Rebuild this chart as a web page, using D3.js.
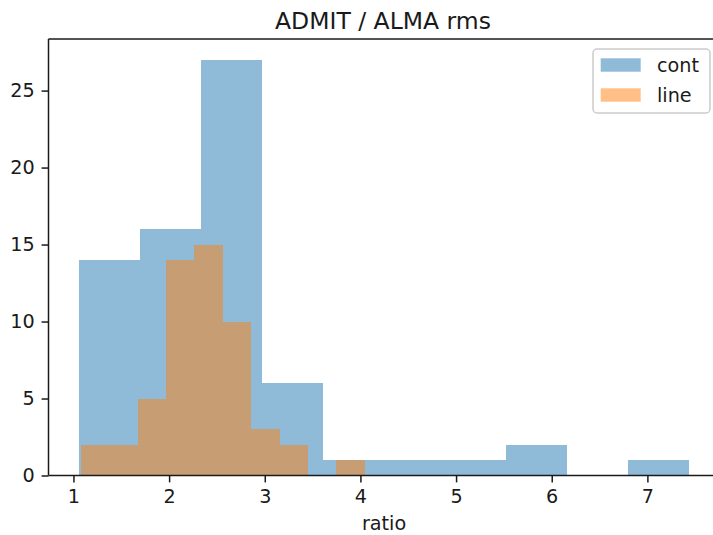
<!DOCTYPE html>
<html><head><meta charset="utf-8">
<script src="https://cdn.jsdelivr.net/npm/d3@7"></script>
<style>body{margin:0;background:#fff;} svg{display:block;} text{font-family:"DejaVu Sans",sans-serif;fill:#1a1a1a;}</style>
</head><body><svg id="c" width="713" height="535"></svg>
<script>
// Data
const contEdges = [1.058, 1.696, 2.333, 2.971, 3.609, 4.247, 4.884, 5.522, 6.160, 6.797, 7.435];
const contCounts = [14, 16, 27, 6, 1, 1, 1, 2, 0, 1];
const lineEdges = [1.077, 1.374, 1.671, 1.968, 2.264, 2.561, 2.858, 3.155, 3.452, 3.748, 4.045];
const lineCounts = [2, 2, 5, 14, 15, 10, 3, 2, 0, 1];
const seriesNames = ["cont", "line"];
const seriesColors = ["#1f77b4", "#ff7f0e"];
const xTicks = [1, 2, 3, 4, 5, 6, 7];
const yTicks = [0, 5, 10, 15, 20, 25];
const titleText = "ADMIT / ALMA rms";
const xLabel = "ratio";

const svg = d3.select("#c");
const L = 48.5, R = 719.5, T = 39, B = 475.5;
const fs = 19.2;

const allEdges = contEdges.concat(lineEdges);
const xmin = d3.min(allEdges), xmax = d3.max(allEdges);
const xm = (xmax - xmin) * 0.05;
const x = d3.scaleLinear().domain([xmin - xm, xmax + xm]).range([L, R]);
const ymax = d3.max(contCounts.concat(lineCounts)) * 1.05;
const y = d3.scaleLinear().domain([0, ymax]).range([B, T]);

const series = [
  {edges: contEdges, counts: contCounts},
  {edges: lineEdges, counts: lineCounts}
];
series.forEach((s, si) => {
  const bins = s.counts.map((c, i) => ({x0: s.edges[i], x1: s.edges[i + 1], c}));
  svg.append("g").selectAll("rect").data(bins.filter(b => b.c > 0)).join("rect")
    .attr("x", d => x(d.x0)).attr("width", d => x(d.x1) - x(d.x0))
    .attr("y", d => y(d.c)).attr("height", d => y(0) - y(d.c))
    .attr("fill", seriesColors[si]).attr("fill-opacity", 0.5)
    .attr("shape-rendering", "crispEdges");
});

// Axes
const xAxis = d3.axisBottom(x).tickValues(xTicks).tickFormat(d3.format("d")).tickSize(6.9).tickPadding(6.9);
const gx = svg.append("g").attr("transform", `translate(0,${B})`).call(xAxis);
gx.select(".domain").remove();
gx.selectAll("line").attr("stroke", "#1a1a1a").attr("stroke-width", 1.5);
gx.selectAll("text").attr("font-size", fs).attr("dy", "0.71em").attr("y", 13.8).style("font-family", "DejaVu Sans");

const yAxis = d3.axisLeft(y).tickValues(yTicks).tickFormat(d3.format("d")).tickSize(6.9).tickPadding(6.9);
const gy = svg.append("g").attr("transform", `translate(${L},0)`).call(yAxis);
gy.select(".domain").remove();
gy.selectAll("line").attr("stroke", "#1a1a1a").attr("stroke-width", 1.5);
gy.selectAll("text").attr("font-size", fs).style("font-family", "DejaVu Sans");

// Spines
const sp = svg.append("g").attr("stroke", "#1a1a1a").attr("stroke-width", 1.5).attr("fill", "none");
sp.append("line").attr("x1", L).attr("x2", L).attr("y1", T).attr("y2", B);
sp.append("line").attr("x1", L).attr("x2", R).attr("y1", B).attr("y2", B);
sp.append("line").attr("x1", L).attr("x2", R).attr("y1", T).attr("y2", T);
sp.append("line").attr("x1", R).attr("x2", R).attr("y1", T).attr("y2", B);

// Title and label
svg.append("text").attr("x", (L + R) / 2 - 1).attr("y", 29).attr("text-anchor", "middle")
  .attr("font-size", 23.5).text(titleText);
svg.append("text").attr("x", (L + R) / 2).attr("y", 530).attr("text-anchor", "middle")
  .attr("font-size", fs).text(xLabel);

// Legend
const lg = svg.append("g");
lg.append("rect").attr("x", 593).attr("y", 49).attr("width", 117).attr("height", 64)
  .attr("rx", 4).attr("fill", "#fff").attr("fill-opacity", 0.8).attr("stroke", "#cccccc").attr("stroke-width", 1.5);
seriesNames.forEach((n, i) => {
  const yy = 58.3 + i * 30;
  lg.append("rect").attr("x", 600.7).attr("y", yy).attr("width", 40).attr("height", 13.4)
    .attr("fill", seriesColors[i]).attr("fill-opacity", 0.5);
  lg.append("text").attr("x", 657).attr("y", yy + 13.4).attr("font-size", fs).text(n);
});
</script></body></html>
